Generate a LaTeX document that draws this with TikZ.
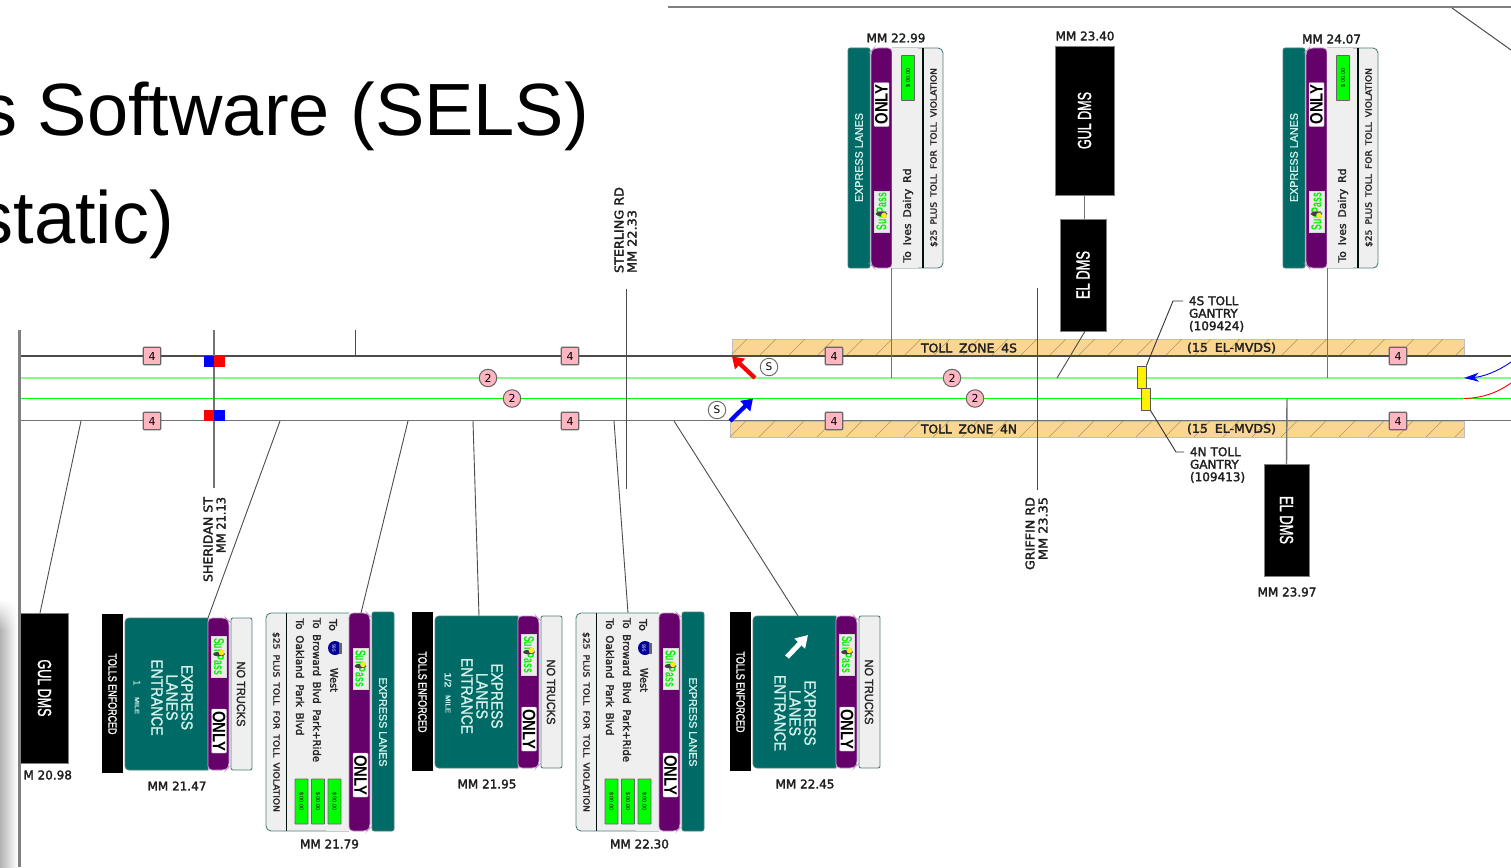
\documentclass[tikz,border=0pt]{standalone}
\usepackage{fontspec}
\usepackage{graphicx}
\setmainfont{Liberation Sans}
\newfontfamily\djv{DejaVu Sans}
\newfontfamily\djm[FakeBold=2.2]{DejaVu Sans}
\newfontfamily\lbm[FakeBold=1.6]{Liberation Sans}
\usetikzlibrary{arrows.meta,calc,fadings}
\definecolor{teal}{HTML}{006B66}
\definecolor{purp}{HTML}{66006B}
\definecolor{panel}{HTML}{EFEFEF}
\definecolor{edge}{HTML}{4F7F7C}
\definecolor{zone}{HTML}{FBD592}
\definecolor{pinkb}{HTML}{FFB6C1}
\definecolor{lgreen}{HTML}{80FF80}
\definecolor{mint}{HTML}{D5F0EA}
\newcommand{\fw}[3]{\resizebox{#1pt}{\height}{\fontsize{#2pt}{#2pt}\selectfont #3}}
\newcommand{\fl}[3]{\resizebox{#1pt}{\height}{\lbm\fontsize{#2pt}{#2pt}\selectfont #3}}
\newcommand{\fd}[3]{\resizebox{#1pt}{\height}{\djm\fontsize{#2pt}{#2pt}\selectfont #3}}
\newcommand{\sk}{\hspace{.55em}}
\tikzset{
  x=1pt,y=-1pt,
  txt/.style={inner sep=0pt,outer sep=0pt},
  down/.style={txt,rotate=-90},
  up/.style={txt,rotate=90},
  mm/.style={txt,font=\djm\fontsize{12pt}{12.5pt}\selectfont,text=black!88},
  mmup/.style={mm,rotate=90,anchor=#1},
  small/.style={mm,align=left},
  conn/.style={draw=black!70,line width=.9pt},
  pole/.style={draw=black!55,line width=1.4pt},
  four/.style={draw=black!60,line width=1.2pt,fill=pinkb,rounded corners=1pt,minimum size=17.5pt,inner sep=0pt,font=\djv\fontsize{11pt}{12pt}\selectfont},
  two/.style={circle,draw=black!60,line width=1pt,fill=pinkb,minimum size=17.5pt,inner sep=0pt,font=\djv\fontsize{11pt}{12pt}\selectfont},
  ess/.style={circle,draw=black!60,line width=.9pt,fill=white,minimum size=17.5pt,inner sep=0pt,font=\djv\fontsize{10.5pt}{12pt}\selectfont},
  dms/.style={fill=black,draw=black!50,line width=.5pt,text=white,inner sep=0pt,minimum width=#1},
  onlybox/.style={fill=white,draw=black!30,line width=.4pt,rounded corners=1pt,inner sep=0pt,minimum width=44pt,minimum height=15pt,font=\bfseries},
  gbox/.style={fill=green,draw=black!60,line width=.9pt,rounded corners=.5pt,inner sep=0pt,minimum width=13pt,minimum height=45pt,font=\fontsize{5.5pt}{6pt}\selectfont},
}
% SunPass logo: #1 name, #2 centre, #3 rotation, #4 dot offset
\newcommand{\sunlogo}[4]{%
  \node[fill=white!92!black,draw=black!15,line width=.3pt,inner sep=0pt,minimum width=15pt,minimum height=41pt] (#1) at #2 {};
  \node[txt,rotate=#3,text=green!95!black,font=\bfseries] (#1t) at #2 {\resizebox{37pt}{10pt}{SunPass}};
  \fill[black!75] ($#2+(0,#4*.6)$) ellipse (6pt and 2.2pt);
  \fill[yellow,draw=black!30,line width=.2pt] ($#2+(2.5,#4)$) circle (2.8pt);
}
% entrance sign
\newcommand{\signA}[4]{%
\begin{scope}[shift={(#2,#3)},name prefix=#1-]
  \fill[black] (0,-4) rectangle (21,155);
  \draw[edge,line width=.8pt,fill=teal,rounded corners=4pt] (23,0) -- (23,152) -- (60,152)[sharp corners] -- (106,152) -- (106,0) -- (60,0)[rounded corners=4pt] -- cycle;
  \draw[purp!40!white,line width=.8pt,fill=purp,rounded corners=4pt] (106,0) -- (124,0) -- (127,3) -- (127,149) -- (124,152) -- (106,152) -- cycle;
  \draw[edge,line width=.9pt,fill=panel,rounded corners=2pt] (129,0) rectangle (150,152);
  \node[down,text=white] (enf) at (10.5,76) {\fl{81}{12}{TOLLS ENFORCED}};
  \node[down,text=black!85] (nt) at (139,76) {\fl{65}{12}{NO TRUCKS}};
  \sunlogo{logo}{(117,38.5)}{-90}{-4}
  \node[onlybox,rotate=-90] (only) at (117,113) {\fw{40}{18}{ONLY}};
  #4
\end{scope}}
\newcommand{\tealtext}[2]{%
  \node[down,text=mint] (ex) at (#1,#2) {\fl{65}{16}{EXPRESS}};
  \pgfmathsetmacro{\xl}{#1-15}\pgfmathsetmacro{\xe}{#1-30}
  \node[down,text=mint] (la) at (\xl,#2) {\fl{46}{16}{LANES}};
  \node[down,text=mint] (en) at (\xe,#2) {\fl{76}{16}{ENTRANCE}};
}
% long sign, text running down
\newcommand{\signB}[3]{%
\begin{scope}[shift={(#2,#3)},name prefix=#1-]
  \draw[edge,line width=.9pt,fill=panel,rounded corners=5pt] (83,0) -- (0,0) -- (0,218) -- (83,218);
  \fill[panel] (60,.5) rectangle (83,217.5);
  \draw[black!85!teal,line width=1.2pt] (20.5,0) -- (20.5,218);
  \draw[purp!40!white,line width=.8pt,fill=purp,rounded corners=4pt] (83,0) -- (101,0) -- (104,3) -- (104,215) -- (101,218) -- (83,218) -- cycle;
  \draw[edge,line width=.6pt,fill=teal,rounded corners=2pt] (106,-1) rectangle (128,218);
  \node[down,text=black!85] (to) at (67,12) {\fd{12}{10.5}{To}};
  \fill[blue!60!black] (69,35) circle (7pt);
  \fill[black!60] (73,29.5) rectangle (76,40.5);
  \node[txt,rotate=-90,text=white,font=\fontsize{4.5pt}{5pt}\selectfont] (sh) at (68,35) {595};
  \node[down,text=black!85] (we) at (68,67) {\fd{24}{10.5}{West}};
  \node[down,text=black!85] (br) at (51,77) {\fd{144}{10.5}{To\sk Broward\sk Blvd\sk Park+Ride}};
  \node[down,text=black!85] (oa) at (34,64) {\fd{117}{10.5}{To\sk Oakland\sk Park\sk Blvd}};
  \node[down,text=black!85] (v) at (10,109) {\fd{180}{8.6}{\$25\sk PLUS\sk TOLL\sk FOR\sk TOLL\sk VIOLATION}};
  \node[gbox] (g1) at (35.5,188.5) {\rotatebox{-90}{\$ 00.00}};
  \node[gbox] (g2) at (52,188.5) {\rotatebox{-90}{\$ 00.00}};
  \node[gbox] (g3) at (68.5,188.5) {\rotatebox{-90}{\$ 00.00}};
  \sunlogo{logo}{(94.5,55.5)}{-90}{-4}
  \node[onlybox,rotate=-90] (only) at (94.5,162) {\fw{40}{18}{ONLY}};
  \node[down,text=mint] (el) at (117,109) {\fl{89}{11}{EXPRESS LANES}};
\end{scope}}
% short sign, text running up
\newcommand{\signC}[3]{%
\begin{scope}[shift={(#2,#3)},name prefix=#1-]
  \draw[edge,line width=.6pt,fill=teal,rounded corners=2pt] (0,0) rectangle (22,220);
  \draw[purp!40!white,line width=.8pt,fill=purp,rounded corners=4pt] (44,0) -- (26,0) -- (23,3) -- (23,217) -- (26,220) -- (44,220) -- cycle;
  \draw[edge,line width=.9pt,fill=panel,rounded corners=5pt] (44,0) -- (95,0) -- (95,220) -- (44,220);
  \fill[panel] (44,.5) rectangle (70,219.5);
  \draw[black!85!teal,line width=1.2pt] (75,0) -- (75,220);
  \node[up,text=mint] (el) at (11,109.5) {\fl{89}{11}{EXPRESS LANES}};
  \node[onlybox,rotate=90] (only) at (33.5,56.5) {\fw{40}{18}{ONLY}};
  \sunlogo{logo}{(33.5,163.5)}{90}{4}
  \node[gbox] (g) at (60,30) {\rotatebox{90}{\$ 00.00}};
  \node[up,text=black!85] (to) at (60,167.5) {\fd{94}{10.5}{To\sk Ives\sk Dairy\sk Rd}};
  \node[up,text=black!85] (v) at (86,109.5) {\fd{179}{8.6}{\$25\sk PLUS\sk TOLL\sk FOR\sk TOLL\sk VIOLATION}};
\end{scope}}
\begin{document}
\begin{tikzpicture}
\useasboundingbox (0,0) rectangle (1511,867);
\begin{scope}
\clip (0,0) rectangle (1511,867);
\fill[white] (0,0) rectangle (1511,867);
% title
\node[txt,anchor=base east,font=\fontsize{74pt}{80pt}\selectfont] (t1) at (589,135) {s Software (SELS)};
\node[txt,anchor=base east,font=\fontsize{74pt}{80pt}\selectfont] (t2) at (174,243) {static)};
% slide edge
\shade[left color=black!30,right color=white] (0,600) rectangle (17,867);
\fill[white,path fading=south] (0,600) rectangle (17,630);
% top frame
\coordinate (frameL) at (668,7); \coordinate (frameR) at (1511,7);
\coordinate (frameD) at (1452,8); \coordinate (frameE) at (1511,50);
\draw[black!50,line width=2.8pt] (frameL) -- (frameR);
\draw[black!70,line width=1pt] (frameD) -- (frameE);
% toll zones
\foreach \xa/\xb/\ya/\yb/\nm in {732/1464/339/356/zs,730/1464/421/437/zn}{
  \fill[zone,draw=black!25,line width=.8pt] (\xa,\ya) rectangle (\xb,\yb);
  \begin{scope}
    \clip (\xa,\ya) rectangle (\xb,\yb);
    \foreach \h in {730,759,...,1480}{\draw[black!30!zone,line width=.5pt] (\h,\yb) -- ++(18,-18);}
  \end{scope}
}
% roads
\coordinate (w1) at (20,356); \coordinate (e1) at (1511,356);
\coordinate (w2) at (20,378); \coordinate (e2) at (1511,378);
\coordinate (w3) at (20,398.5); \coordinate (e3) at (1511,398.5);
\coordinate (w4) at (20,420.5); \coordinate (e4) at (1511,420.5);
\draw[black!70,line width=1.2pt] (w1) -- (e1);
\draw[lgreen,line width=2pt] (w2) -- (e2);
\draw[green,line width=1.3pt] (w3) -- (e3);
\draw[black!55,line width=1.4pt] (w4) -- (e4);
% cross streets
\coordinate (shT) at (214,330); \coordinate (shB) at (214,488);
\coordinate (tkT) at (355,330); \coordinate (tkB) at (355,356);
\coordinate (stT) at (626,289); \coordinate (stB) at (626,489);
\coordinate (grT) at (1037,288); \coordinate (grB) at (1037,490);
\draw[pole] (shT) -- (shB);
\draw[conn] (tkT) -- (tkB);
\draw[conn] (stT) -- (stB);
\draw[conn] (grT) -- (grB);
% blue/red blocks
\fill[blue] (204,356) rectangle (214,366.5);
\fill[red] (214,356) rectangle (225,366.5);
\fill[red] (204,410) rectangle (214,420.5);
\fill[blue] (214,410) rectangle (225,420.5);
% connectors from road to sign
\coordinate (r2098) at (81,421); \coordinate (c2098) at (40,613);
\coordinate (r2147) at (280,421); \coordinate (c2147) at (208,618);
\coordinate (r2179) at (408,421); \coordinate (c2179) at (361,613);
\coordinate (r2195) at (473,421); \coordinate (c2195) at (479,616);
\coordinate (r2230) at (614,421); \coordinate (c2230) at (628,613);
\coordinate (r2245) at (674,421); \coordinate (c2245) at (798,616);
\coordinate (r2299) at (891.5,378); \coordinate (c2299) at (891.5,268);
\coordinate (r2407) at (1327.5,378); \coordinate (c2407) at (1327.5,268);
\coordinate (r2397) at (1287,398.5);
\coordinate (r2340) at (1057,378);
\foreach \a/\b in {r2098/c2098,r2147/c2147,r2179/c2179,r2195/c2195,r2230/c2230,r2245/c2245}{\draw[conn] (\a) -- (\b);}
\draw[pole] (r2299) -- (c2299);
\draw[pole] (r2407) -- (c2407);
% DMS
\node[dms=48pt,minimum height=150pt] (dms2098) at (44.5,688) {\rotatebox{-90}{\fl{57}{19}{GUL DMS}}};
\node[dms=59pt,minimum height=149pt] (dms2340) at (1084.5,120.5) {\rotatebox{90}{\fl{57}{19}{GUL DMS}}};
\node[dms=46pt,minimum height=112pt] (el2340) at (1083,275) {\rotatebox{90}{\fl{48}{19}{EL DMS}}};
\node[dms=45pt,minimum height=112pt] (el2397) at (1286.5,520) {\rotatebox{-90}{\fl{48}{19}{EL DMS}}};
\draw[pole] (dms2340.south) -- (el2340.north -| dms2340.south);
\draw[conn] (el2340.south) ++(2,0) -- (r2340);
\draw[pole] (r2397) -- (el2397.north);
% signs
\signA{a2147}{102}{618}{
  \tealtext{85}{79.5}
  \node[down,text=mint,font=\fontsize{10pt}{10pt}\selectfont] (n1) at (35,65) {1};
  \node[down,text=mint] (mi) at (35,87.5) {\fl{17}{6}{MILE}};
}
\signA{a2195}{412}{616}{
  \tealtext{85}{80}
  \node[down,text=mint] (n1) at (36,64) {\fl{15}{9}{1/2}};
  \node[down,text=mint] (mi) at (36,88) {\fl{18}{7}{MILE}};
}
\signA{a2245}{730}{616}{
  \tealtext{80}{97}
  \coordinate (aw) at (57,41); \coordinate (ah) at (78,19);
  \draw[white,line width=5pt,-{Stealth[length=12pt,width=14pt,inset=0pt]}] (aw) -- (ah);
}
\signB{b2179}{266}{613}
\signB{b2230}{576}{613}
\signC{c2299}{848}{48}
\signC{c2407}{1283}{48}
% mile marker labels
\node[mm,anchor=east] (m2098) at (72,775) {M 20.98};
\node[mm] (m2147) at (177,786) {MM 21.47};
\node[mm] (m2179) at (329.5,844) {MM 21.79};
\node[mm] (m2195) at (487,784) {MM 21.95};
\node[mm] (m2230) at (639.5,844) {MM 22.30};
\node[mm] (m2245) at (805,784) {MM 22.45};
\node[mm] (m2299) at (896,38) {MM 22.99};
\node[mm] (m2340) at (1085,36) {MM 23.40};
\node[mm] (m2397) at (1287,592) {MM 23.97};
\node[mm] (m2407) at (1331.5,39) {MM 24.07};
% street labels
\node[mmup=east] (sh1) at (208,497) {\resizebox{85pt}{\height}{SHERIDAN ST}};
\node[mmup=east] (sh2) at (221,497) {\resizebox{56pt}{\height}{MM 21.13}};
\node[mmup=west] (st1) at (619,273) {\resizebox{86pt}{\height}{STERLING RD}};
\node[mmup=west] (st2) at (632,273) {\resizebox{63pt}{\height}{MM 22.33}};
\node[mmup=east] (gr1) at (1030,497) {\resizebox{73pt}{\height}{GRIFFIN RD}};
\node[mmup=east] (gr2) at (1043,497) {\resizebox{63pt}{\height}{MM 23.35}};
% zone labels
\node[small] (zs1) at (969,348) {\resizebox{96pt}{\height}{TOLL\sk ZONE\sk 4S}};
\node[small] (zs2) at (1231.5,348) {\resizebox{89pt}{\height}{(15\sk EL-MVDS)}};
\node[small] (zn1) at (969,429) {\resizebox{96pt}{\height}{TOLL\sk ZONE\sk 4N}};
\node[small] (zn2) at (1231.5,429) {\resizebox{89pt}{\height}{(15\sk EL-MVDS)}};
% gantries
\node[fill=yellow,draw=black!65,line width=.8pt,minimum width=9pt,minimum height=22pt,inner sep=0pt] (g4s) at (1141.5,377) {};
\node[fill=yellow,draw=black!65,line width=.8pt,minimum width=9pt,minimum height=22pt,inner sep=0pt] (g4n) at (1145.5,399) {};
\node[small,anchor=west,text width=70pt] (l4s) at (1189,314) {4S TOLL\\GANTRY\\(109424)};
\node[small,anchor=west,text width=70pt] (l4n) at (1190,465) {4N TOLL\\GANTRY\\(109413)};
\coordinate (k4s) at (1173,301); \coordinate (f4s) at (1183,301);
\coordinate (k4n) at (1176,452); \coordinate (f4n) at (1184,452);
\draw[black!80,line width=.9pt] (g4s.north east) -- (k4s) -- (f4s);
\draw[black!80,line width=.9pt] (g4n.south east) -- (k4n) -- (f4n);
% shields
\foreach \nm/\px/\py in {a/152/356,b/152/421,c/570/356,d/570/421,e/834/356,f/834/421,g/1398/356,h/1398/421}{
  \node[four] (four\nm) at (\px,\py) {4};
}
\foreach \nm/\px/\py in {a/488/378,b/512/398.5,c/952/378,d/975/398.5}{
  \node[two] (two\nm) at (\px,\py) {2};
}
\node[ess] (s1) at (769,367) {S};
\node[ess] (s2) at (717,410) {S};
% merge arrows
\coordinate (ra) at (755,378); \coordinate (rb) at (732,356.5);
\coordinate (ba) at (730,421); \coordinate (bb) at (753,398.5);
\draw[red,line width=4.2pt,-{Stealth[length=11pt,width=14pt,inset=0pt]}] (ra) -- (rb);
\draw[blue,line width=4.2pt,-{Stealth[length=11pt,width=14pt,inset=0pt]}] (ba) -- (bb);
\coordinate (bs) at (1511,362); \coordinate (be) at (1464,378);
\coordinate (rs) at (1511,383); \coordinate (re) at (1464,398.5);
\draw[blue,line width=.9pt,-{Stealth[length=15pt,width=9pt]}] (bs) .. controls (1497,372) and (1482,377) .. (be);
\draw[red,line width=.9pt] (rs) .. controls (1497,393) and (1482,398) .. (re);
% left edge line
\coordinate (leT) at (19.5,330); \coordinate (leB) at (19.5,867);
\draw[black!50,line width=2.4pt] (leT) -- (leB);
\end{scope}
\end{tikzpicture}
\end{document}
